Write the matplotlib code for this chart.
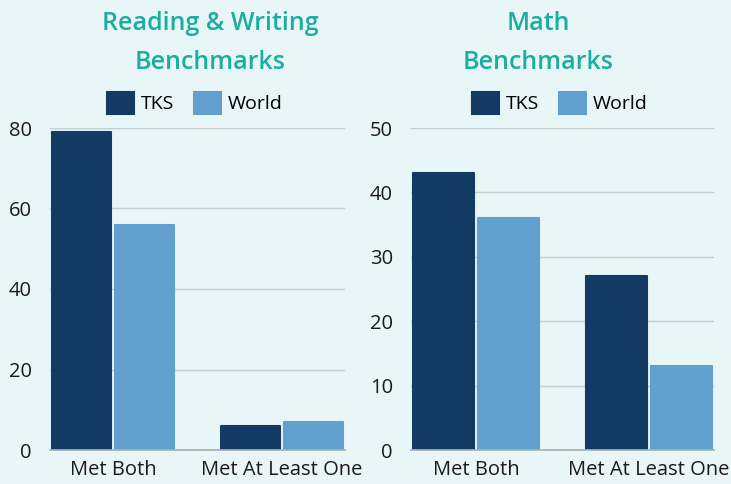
import matplotlib.pyplot as plt
import numpy as np

categories = ['Met Both', 'Met At Least One']
series = ['TKS', 'World']

rw_tks = [79, 6]
rw_world = [56, 7]
math_tks = [43, 27]
math_world = [36, 13]

rw_ticks = [0, 20, 40, 60, 80]
math_ticks = [0, 10, 20, 30, 40, 50]

bg = '#E8F6F8'
dark = '#133A63'
light = '#619FCF'
teal = '#1AADA0'

plt.rcParams['font.family'] = ['Open Sans', 'DejaVu Sans']

fig = plt.figure(figsize=(7.31, 4.84), dpi=100, facecolor=bg)

panels = [
    ([50 / 731, 34 / 484, 295 / 731, 322 / 484], 'Reading & Writing\nBenchmarks',
     rw_tks, rw_world, rw_ticks, 210 / 731, 195 / 731),
    ([411 / 731, 34 / 484, 303 / 731, 322 / 484], 'Math\nBenchmarks',
     math_tks, math_world, math_ticks, 538 / 731, 560 / 731),
]

for rect, title, tks, world, ticks, tx, lx in panels:
    ax = fig.add_axes(rect)
    ax.set_facecolor(bg)
    x = np.arange(len(categories))
    w = 0.352
    b1 = ax.bar(x - 0.1875, tks, w, color=dark, label='TKS', zorder=3)
    b2 = ax.bar(x + 0.1875, world, w, color=light, label='World', zorder=3)
    ax.set_xlim(-0.375, len(categories) - 1 + 0.375)
    ax.set_ylim(0, ticks[-1])
    ax.set_yticks(ticks)
    ax.set_xticks(x)
    ax.set_xticklabels(categories, fontsize=14.5, color='#1a1a1a')
    ax.tick_params(axis='y', labelsize=14.5, colors='#1a1a1a', length=0, pad=13)
    ax.tick_params(axis='x', length=0, pad=7)
    ax.grid(axis='y', color='#C3CCCF', linewidth=1, zorder=0)
    ax.set_axisbelow(True)
    for s in ['top', 'right', 'left']:
        ax.spines[s].set_visible(False)
    ax.spines['bottom'].set_color('#A8B0B3')
    ax.spines['bottom'].set_linewidth(1.2)
    ax.spines['bottom'].set_zorder(4)
    for bar in list(b1) + list(b2):
        bar.set_joinstyle('round')
        bar.set_edgecolor(bar.get_facecolor())
        bar.set_linewidth(1.5)

    fig.text(tx, 1 - 43 / 484, title, ha='center', va='center', fontsize=18,
             color=teal, fontweight='semibold', linespacing=1.75)
    fig.legend(handles=[b1, b2], labels=series, loc='center',
               bbox_to_anchor=(lx, 1 - 103 / 484), ncol=2, frameon=False,
               fontsize=14, handlelength=1.4, handleheight=1.4,
               handletextpad=0.35, columnspacing=1.0)

fig.savefig('out.png', dpi=100, facecolor=bg)
